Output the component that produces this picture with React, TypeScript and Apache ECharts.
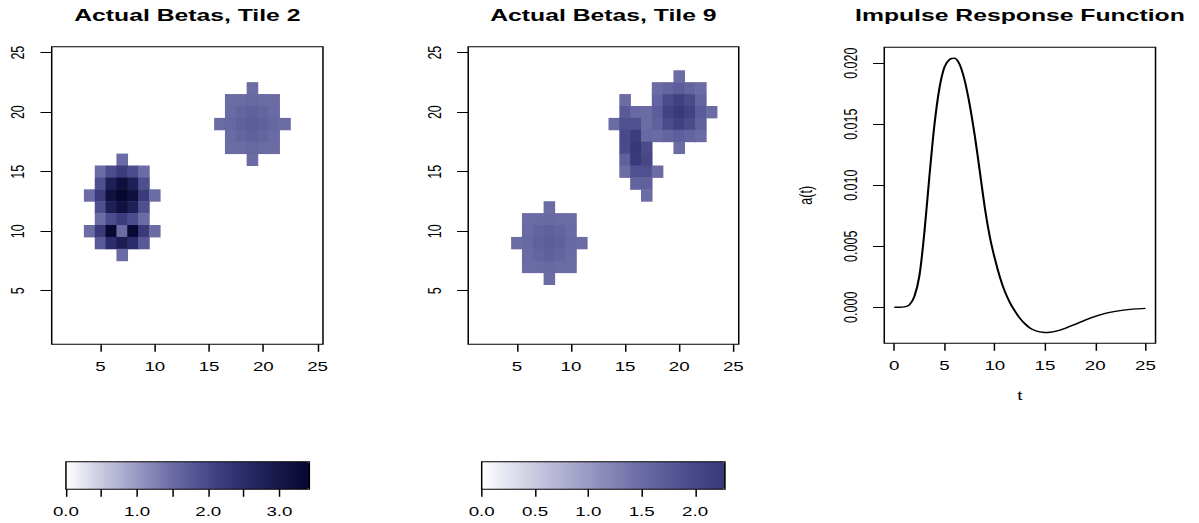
import React, { useEffect, useRef } from "react";
import * as echarts from "echarts";

// ---------- data ----------
const gridCategories = Array.from({ length: 25 }, (_, i) => String(i + 1));
const heatTickValues = ["5", "10", "15", "20", "25"];

// [column, row, beta]
const tile2Cells: [number, number, number][] = [
  [7, 16, 1.5],
  [5, 15, 1.5], [6, 15, 1.95], [7, 15, 2.2], [8, 15, 1.95], [9, 15, 1.5],
  [5, 14, 1.9], [6, 14, 2.8], [7, 14, 3.2], [8, 14, 2.8], [9, 14, 1.9],
  [4, 13, 1.5], [5, 13, 2.2], [6, 13, 3.15], [7, 13, 3.42], [8, 13, 3.15], [9, 13, 2.2], [10, 13, 1.5],
  [5, 12, 1.9], [6, 12, 2.8], [7, 12, 3.15], [8, 12, 2.8], [9, 12, 1.9],
  [5, 11, 1.5], [6, 11, 1.95], [7, 11, 2.2], [8, 11, 1.95], [9, 11, 1.5],
  [4, 10, 1.5], [5, 10, 2.25], [6, 10, 3.35], [7, 10, 1.5], [8, 10, 3.35], [9, 10, 2.25], [10, 10, 1.5],
  [5, 9, 1.75], [6, 9, 2.5], [7, 9, 2.85], [8, 9, 2.5], [9, 9, 1.75],
  [7, 8, 1.5],
  [19, 22, 1.5],
  [17, 21, 1.5], [18, 21, 1.52], [19, 21, 1.55], [20, 21, 1.52], [21, 21, 1.5],
  [17, 20, 1.52], [18, 20, 1.6], [19, 20, 1.65], [20, 20, 1.6], [21, 20, 1.52],
  [16, 19, 1.5], [17, 19, 1.55], [18, 19, 1.65], [19, 19, 1.7], [20, 19, 1.65], [21, 19, 1.55], [22, 19, 1.5],
  [17, 18, 1.52], [18, 18, 1.6], [19, 18, 1.65], [20, 18, 1.6], [21, 18, 1.52],
  [17, 17, 1.5], [18, 17, 1.52], [19, 17, 1.55], [20, 17, 1.52], [21, 17, 1.5],
  [19, 16, 1.5],
];

const tile9Cells: [number, number, number][] = [
  [8, 12, 1.5],
  [6, 11, 1.5], [7, 11, 1.52], [8, 11, 1.55], [9, 11, 1.52], [10, 11, 1.5],
  [6, 10, 1.52], [7, 10, 1.6], [8, 10, 1.65], [9, 10, 1.6], [10, 10, 1.52],
  [5, 9, 1.5], [6, 9, 1.55], [7, 9, 1.65], [8, 9, 1.7], [9, 9, 1.65], [10, 9, 1.55], [11, 9, 1.5],
  [6, 8, 1.52], [7, 8, 1.6], [8, 8, 1.65], [9, 8, 1.6], [10, 8, 1.52],
  [6, 7, 1.5], [7, 7, 1.52], [8, 7, 1.55], [9, 7, 1.52], [10, 7, 1.5],
  [8, 6, 1.5],
  [20, 23, 1.5],
  [18, 22, 1.5], [19, 22, 1.6], [20, 22, 1.7], [21, 22, 1.6], [22, 22, 1.5],
  [15, 21, 1.5], [18, 21, 1.6], [19, 21, 1.95], [20, 21, 2.12], [21, 21, 1.95], [22, 21, 1.6],
  [15, 20, 1.72], [16, 20, 1.55], [17, 20, 1.5], [18, 20, 1.7], [19, 20, 2.1], [20, 20, 2.25], [21, 20, 2.1], [22, 20, 1.72], [23, 20, 1.5],
  [14, 19, 1.5], [15, 19, 1.88], [16, 19, 1.88], [17, 19, 1.5], [18, 19, 1.65], [19, 19, 1.95], [20, 19, 2.12], [21, 19, 1.95], [22, 19, 1.65],
  [15, 18, 1.98], [16, 18, 2.2], [17, 18, 1.55], [18, 18, 1.52], [19, 18, 1.6], [20, 18, 1.68], [21, 18, 1.6], [22, 18, 1.52],
  [15, 17, 1.95], [16, 17, 2.28], [17, 17, 1.95], [20, 17, 1.5],
  [15, 16, 1.65], [16, 16, 2.25], [17, 16, 2.02],
  [15, 15, 1.5], [16, 15, 1.88], [17, 15, 1.88], [18, 15, 1.5],
  [16, 14, 1.6], [17, 14, 1.65],
  [17, 13, 1.5],
];

const tile2Max = 3.42;
const tile9Max = 2.28;
const bar1Ticks = [0, 0.5, 1, 1.5, 2, 2.5, 3];
const bar1Labels = [0, 1, 2, 3];
const bar2Ticks = [0, 0.5, 1, 1.5, 2];
const bar2Labels = [0, 0.5, 1, 1.5, 2];

const irfT = [0, 0.5, 1, 1.5, 2, 2.5, 3, 3.5, 4, 4.5, 5, 5.5, 6, 6.5, 7, 7.5, 8, 8.5, 9, 9.5, 10, 10.5, 11, 11.5, 12, 12.5, 13, 13.5, 14, 14.5, 15, 15.5, 16, 17, 18, 19, 20, 21, 22, 23, 24, 25];
const irfA = [0, 0, 0.00003, 0.0002, 0.0009, 0.0026, 0.0062, 0.0108, 0.015, 0.018, 0.0197, 0.0203, 0.0204, 0.0199, 0.0186, 0.0166, 0.0141, 0.0112, 0.0082, 0.0058, 0.004, 0.0025, 0.0013, 0.0004, -0.0003, -0.0009, -0.00135, -0.0017, -0.0019, -0.00202, -0.00206, -0.00204, -0.00197, -0.00172, -0.0014, -0.00105, -0.00075, -0.0005, -0.00033, -0.00021, -0.00013, -0.00009];
const irfXTicks = [0, 5, 10, 15, 20, 25];
const irfYTicks = [0, 0.005, 0.01, 0.015, 0.02];

// palette (value -> colour)
const paletteValues = [0, 0.5, 1.0, 1.5, 2.0, 2.5, 3.0, 3.5];
const paletteColors = ["#ffffff", "#c9c9e1", "#9999c4", "#6b6ba5", "#48488a", "#2c2c6a", "#17174a", "#04042a"];

function hexToRgb(h: string) {
  return [parseInt(h.slice(1, 3), 16), parseInt(h.slice(3, 5), 16), parseInt(h.slice(5, 7), 16)];
}
function paletteAt(v: number) {
  let i = 0;
  while (i < paletteValues.length - 2 && v > paletteValues[i + 1]) i++;
  const f = Math.max(0, Math.min(1, (v - paletteValues[i]) / (paletteValues[i + 1] - paletteValues[i])));
  const a = hexToRgb(paletteColors[i]);
  const b = hexToRgb(paletteColors[i + 1]);
  const c = a.map((x, k) => Math.round(x + (b[k] - x) * f));
  return `rgb(${c[0]},${c[1]},${c[2]})`;
}
function sampleColors(max: number) {
  const n = 24;
  return Array.from({ length: n + 1 }, (_, i) => paletteAt((max * i) / n));
}

// ---------- layout (pre-stretch coordinates) ----------
const BASE_W = 800;
const STRETCH = 1199 / BASE_W;
const FONT = "'Liberation Sans', Arial, sans-serif";
const TICK_FS = 12.5;

export default function App() {
  const ref = useRef<HTMLDivElement>(null);
  useEffect(() => {
    if (!ref.current) return;
    const chart = echarts.init(ref.current, undefined, { renderer: "svg" });

    const catTick = (_i: number, v: string) => heatTickValues.indexOf(v) >= 0;
    const heatX = (gi: number) => ({
      type: "category", gridIndex: gi, data: gridCategories, boundaryGap: true,
      axisLine: { show: false, onZero: false },
      axisTick: { show: true, interval: catTick, alignWithLabel: true, length: 7.5, lineStyle: { color: "#000" } },
      axisLabel: { interval: catTick, margin: 16, fontSize: TICK_FS, color: "#000", fontFamily: FONT },
      splitLine: { show: false },
    });
    const heatY = (gi: number) => ({
      type: "category", gridIndex: gi, data: gridCategories, boundaryGap: true,
      axisLine: { show: false, onZero: false },
      axisTick: { show: true, interval: catTick, alignWithLabel: true, length: 7.5, lineStyle: { color: "#000" } },
      axisLabel: { interval: catTick, margin: 16, rotate: 90, fontSize: TICK_FS, color: "#000", fontFamily: FONT },
      splitLine: { show: false },
    });
    const barX = (gi: number, max: number, ticks: number[], labels: number[]) => ({
      type: "value", gridIndex: gi, min: 0, max,
      axisLine: { show: false, onZero: false },
      axisTick: { show: true, customValues: ticks, length: 7.5, lineStyle: { color: "#000" } },
      axisLabel: { customValues: labels, margin: 16, fontSize: TICK_FS, color: "#000", fontFamily: FONT, formatter: (v: number) => v.toFixed(1) },
      splitLine: { show: false },
    });
    const hiddenY = (gi: number) => ({ type: "value", gridIndex: gi, min: 0, max: 1, show: false });

    const toCells = (cells: [number, number, number][]) => cells.map(([c, r, v]) => [c - 1, r - 1, v]);

    const titleStyle = { fontSize: 16.5, fontWeight: "bold", color: "#000", fontFamily: FONT };

    chart.setOption({
      animation: false,
      backgroundColor: "#fff",
      title: [
        { text: "Actual Betas, Tile 2", left: 125, top: 7, textAlign: "center", padding: 0, textStyle: titleStyle },
        { text: "Actual Betas, Tile 9", left: 402.6, top: 7, textAlign: "center", padding: 0, textStyle: titleStyle },
        { text: "Impulse Response Function", left: 680.5, top: 7, textAlign: "center", padding: 0, textStyle: titleStyle },
      ],
      grid: [
        { left: 34.5, top: 46.7, width: 181, height: 297.6, show: true, borderColor: "#000", borderWidth: 1, backgroundColor: "transparent", z: 10 },
        { left: 312.4, top: 46.7, width: 180.5, height: 297.6, show: true, borderColor: "#000", borderWidth: 1, backgroundColor: "transparent", z: 10 },
        { left: 590, top: 47.3, width: 181, height: 296, show: true, borderColor: "#000", borderWidth: 1, backgroundColor: "transparent" },
        { left: 44, top: 461.7, width: 162.4, height: 27.6, show: true, borderColor: "#000", borderWidth: 1, backgroundColor: "transparent", z: 10 },
        { left: 321.4, top: 461.7, width: 162.3, height: 27.6, show: true, borderColor: "#000", borderWidth: 1, backgroundColor: "transparent", z: 10 },
      ],
      xAxis: [
        heatX(0),
        heatX(1),
        {
          type: "value", gridIndex: 2, min: -1, max: 26,
          axisLine: { show: false, onZero: false },
          axisTick: { show: true, customValues: irfXTicks, length: 7.5, lineStyle: { color: "#000" } },
          axisLabel: { customValues: irfXTicks, margin: 16, fontSize: TICK_FS, color: "#000", fontFamily: FONT },
          splitLine: { show: false },
          name: "t", nameLocation: "middle", nameGap: 46,
          nameTextStyle: { fontSize: TICK_FS, color: "#000", fontFamily: FONT },
        },
        barX(3, tile2Max, bar1Ticks, bar1Labels),
        barX(4, tile9Max, bar2Ticks, bar2Labels),
      ],
      yAxis: [
        heatY(0),
        heatY(1),
        {
          type: "value", gridIndex: 2, min: -0.00295, max: 0.0213,
          axisLine: { show: false, onZero: false },
          axisTick: { show: true, customValues: irfYTicks, length: 7.5, lineStyle: { color: "#000" } },
          axisLabel: { customValues: irfYTicks, margin: 16, rotate: 90, fontSize: TICK_FS, color: "#000", fontFamily: FONT, formatter: (v: number) => v.toFixed(3) },
          splitLine: { show: false },
          name: "a(t)", nameLocation: "middle", nameGap: 46, nameRotate: 90,
          nameTextStyle: { fontSize: TICK_FS, color: "#000", fontFamily: FONT },
        },
        hiddenY(3),
        hiddenY(4),
      ],
      visualMap: [
        {
          type: "continuous", seriesIndex: 0, min: 0, max: tile2Max, orient: "horizontal",
          left: 44, top: 461.7, itemWidth: 27.6, itemHeight: 162.4, padding: 0,
          calculable: false, hoverLink: false, inRange: { color: sampleColors(tile2Max) },
        },
        {
          type: "continuous", seriesIndex: 1, min: 0, max: tile9Max, orient: "horizontal",
          left: 321.4, top: 461.7, itemWidth: 27.6, itemHeight: 162.3, padding: 0,
          calculable: false, hoverLink: false, inRange: { color: sampleColors(tile9Max) },
        },
      ],
      series: [
        { type: "heatmap", xAxisIndex: 0, yAxisIndex: 0, data: toCells(tile2Cells), itemStyle: { borderWidth: 0 }, emphasis: { disabled: true } },
        { type: "heatmap", xAxisIndex: 1, yAxisIndex: 1, data: toCells(tile9Cells), itemStyle: { borderWidth: 0 }, emphasis: { disabled: true } },
        {
          type: "line", xAxisIndex: 2, yAxisIndex: 2, data: irfT.map((t, i) => [t, irfA[i]]),
          showSymbol: false, smooth: 0.3, lineStyle: { color: "#000", width: 1.4 },
        },
      ],
    });
    return () => chart.dispose();
  }, []);

  return (
    <div
      ref={ref}
      style={{
        position: "absolute", left: 0, top: 0, width: BASE_W, height: 523,
        transform: `scaleX(${STRETCH})`, transformOrigin: "0 0",
      }}
    />
  );
}
